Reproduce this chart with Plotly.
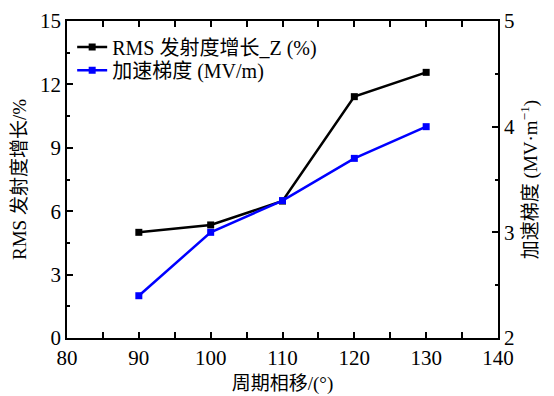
import plotly.graph_objects as go

phase = [90, 100, 110, 120, 130]
rms_growth = [5.0, 5.35, 6.48, 11.42, 12.57]
grad = [2.40, 3.00, 3.30, 3.70, 4.00]

FONT = "Liberation Serif, Times New Roman, Noto Sans CJK SC, serif"

fig = go.Figure()
fig.add_trace(go.Scatter(
    x=phase, y=rms_growth, mode="lines+markers",
    name="RMS 发射度增长_Z (%)", legend="legend",
    line=dict(color="black", width=2.5),
    marker=dict(symbol="square", size=7, color="black"),
))
fig.add_trace(go.Scatter(
    x=phase, y=grad, mode="lines+markers",
    name="加速梯度 (MV/m)", yaxis="y2", legend="legend2",
    line=dict(color="#0000ff", width=2.5),
    marker=dict(symbol="square", size=7, color="#0000ff"),
))

axis_common = dict(
    showline=True, linecolor="black", linewidth=1.5,
    ticks="inside", ticklen=6, tickwidth=1.5, tickcolor="black",
    showgrid=False, zeroline=False, automargin=False,
    tickfont=dict(family=FONT, size=21, color="black"),
)

leg_common = dict(xanchor="left", yanchor="middle", bgcolor="rgba(0,0,0,0)",
                  font=dict(family=FONT, size=20), itemwidth=30)

fig.update_layout(
    width=546, height=388,
    margin=dict(l=59, r=56, t=13, b=58),
    paper_bgcolor="white", plot_bgcolor="white",
    font=dict(family=FONT, size=19, color="black"),
    showlegend=True,
    legend=dict(x=0.012, y=0.918, **leg_common),
    legend2=dict(x=0.012, y=0.845, **leg_common),
    xaxis=dict(
        range=[80, 140], tickvals=[80, 90, 100, 110, 120, 130, 140],
        minor=dict(ticks="inside", ticklen=3, tickwidth=1.5, tickcolor="black", dtick=5),
        mirror="allticks",
        title=dict(text="周期相移/(°)", font=dict(family=FONT, size=19), standoff=8),
        **axis_common,
    ),
    yaxis=dict(
        range=[0, 15], tickvals=[0, 3, 6, 9, 12, 15],
        minor=dict(ticks="inside", ticklen=3, tickwidth=1.5, tickcolor="black", dtick=1.5),
        title=dict(text="RMS 发射度增长/%", font=dict(family=FONT, size=19), standoff=8),
        **axis_common,
    ),
    yaxis2=dict(
        range=[2, 5], tickvals=[2, 3, 4, 5], overlaying="y", side="right",
        minor=dict(ticks="inside", ticklen=3, tickwidth=1.5, tickcolor="black", dtick=0.5),
        title=dict(text="加速梯度 (MV·m<sup>−1</sup>)", font=dict(family=FONT, size=19), standoff=10),
        **axis_common,
    ),
)

fig.write_html("out.html")
